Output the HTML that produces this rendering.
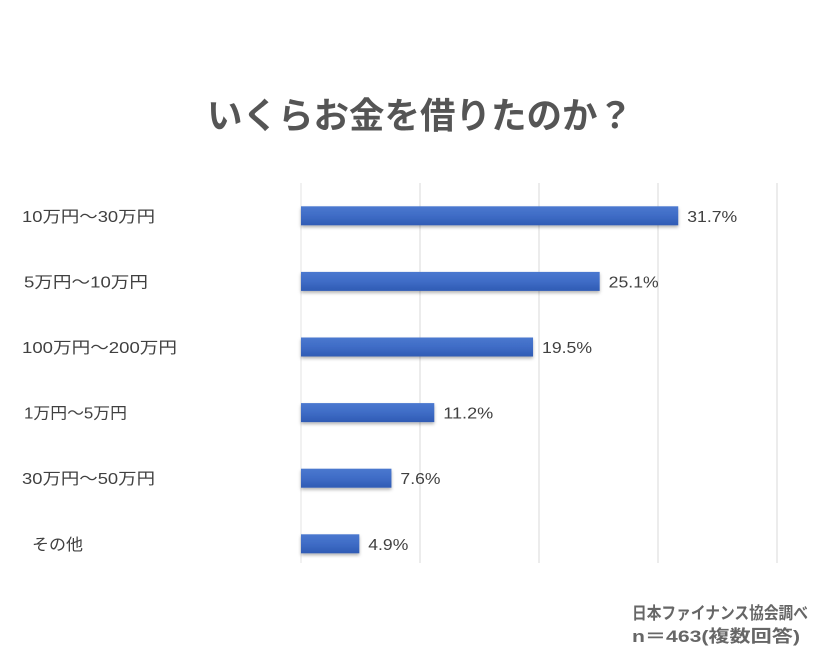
<!DOCTYPE html>
<html><head><meta charset="utf-8">
<style>
html,body{margin:0;padding:0;background:#fff;}
body{width:840px;height:657px;overflow:hidden;font-family:"Liberation Sans","Noto Sans CJK JP",sans-serif;}
</style></head>
<body>
<svg id="chart" width="840" height="657">
  <defs>
    <linearGradient id="bg" x1="0" y1="0" x2="0" y2="1">
      <stop offset="0" stop-color="#4a78cf"/>
      <stop offset="0.5" stop-color="#3f6cc6"/>
      <stop offset="1" stop-color="#2f5bb4"/>
    </linearGradient>
    <filter id="sh" x="-5%" y="-20%" width="110%" height="160%">
      <feDropShadow dx="0" dy="2" stdDeviation="1.5" flood-color="#000" flood-opacity="0.3"/>
    </filter>
  </defs>
  <text x="207" y="128" textLength="426" lengthAdjust="spacingAndGlyphs" font-size="36" font-weight="bold" fill="#555">いくらお金を借りたのか？</text>
  <g id="grid"></g>
  <g id="bars"></g>
  <g id="labels"></g>
  <text x="632" y="619" textLength="176" lengthAdjust="spacingAndGlyphs" font-size="17" font-weight="bold" fill="#666">日本ファイナンス協会調べ</text>
  <text x="632" y="642" textLength="168" lengthAdjust="spacingAndGlyphs" font-size="17" font-weight="bold" fill="#666">n＝463(複数回答)</text>
</svg>
<script>
const categories = ["10万円～30万円","5万円～10万円","100万円～200万円","1万円～5万円","30万円～50万円","その他"];
const values = [31.7, 25.1, 19.5, 11.2, 7.6, 4.9];
const valueLabels = ["31.7%","25.1%","19.5%","11.2%","7.6%","4.9%"];
const gridTicks = [0, 10, 20, 30, 40];

const NS = "http://www.w3.org/2000/svg";
const x0 = 301, pxPer = 11.9;
function xScale(v){ return x0 + v * pxPer; }
const yTop = 183, band = 65.6, barH = 19;
function yCenter(i){ return yTop + band * i + band/2; }
const labelX = [22, 24, 22, 24, 22, 32];
const labelW = [133, 124, 155, 103, 133, 51];

const grid = document.getElementById('grid');
gridTicks.forEach(t => {
  const l = document.createElementNS(NS,'line');
  l.setAttribute('x1', xScale(t)); l.setAttribute('x2', xScale(t));
  l.setAttribute('y1', 183); l.setAttribute('y2', 563);
  l.setAttribute('stroke', t === 0 ? '#e3e3e3' : '#d9d9d9');
  l.setAttribute('stroke-width', 1);
  
  
  grid.appendChild(l);
});

const bars = document.getElementById('bars');
const labels = document.getElementById('labels');
categories.forEach((c, i) => {
  const cy = yCenter(i);
  const r = document.createElementNS(NS,'rect');
  r.setAttribute('x', xScale(0));
  r.setAttribute('y', cy - barH/2);
  r.setAttribute('width', xScale(values[i]) - xScale(0));
  r.setAttribute('height', barH);
  r.setAttribute('fill', 'url(#bg)');
  r.setAttribute('filter', 'url(#sh)');
  
  
  bars.appendChild(r);

  const v = document.createElementNS(NS,'text');
  v.setAttribute('x', xScale(values[i]) + 9);
  v.setAttribute('y', cy + 6);
  v.setAttribute('font-size', '16');
  v.setAttribute('fill', '#404040');
  v.setAttribute('textLength', valueLabels[i].length * 10);
  v.setAttribute('lengthAdjust', 'spacingAndGlyphs');
  v.textContent = valueLabels[i];
  
  
  labels.appendChild(v);

  const cl = document.createElementNS(NS,'text');
  cl.setAttribute('x', labelX[i]);
  cl.setAttribute('y', cy + 6);
  cl.setAttribute('font-size', '16');
  cl.setAttribute('fill', '#404040');
  cl.setAttribute('textLength', labelW[i]);
  cl.setAttribute('lengthAdjust', 'spacingAndGlyphs');
  cl.textContent = c;
  
  
  labels.appendChild(cl);
});
</script>
</body></html>
